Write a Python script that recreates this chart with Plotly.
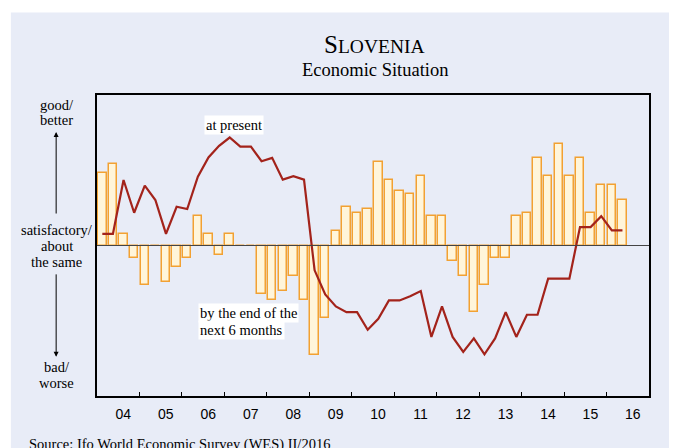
import plotly.graph_objects as go

# quarterly survey results, 2004Q1 .. 2016Q2 (scale 1 = bad, 5 = satisfactory, 9 = good)
start_year = 2004
present = [5.31, 5.31, 6.74, 5.87, 6.59, 6.21, 5.31, 6.03, 5.97, 6.83,
           7.34, 7.65, 7.87, 7.63, 7.63, 7.24, 7.33, 6.75, 6.84, 6.75,
           4.34, 3.70, 3.38, 3.23, 3.23, 2.76, 3.05, 3.54, 3.54, 3.65,
           3.79, 2.57, 3.38, 2.57, 2.17, 2.53, 2.11, 2.53, 3.23, 2.57,
           3.16, 3.16, 4.12, 4.12, 4.12, 5.49, 5.49, 5.78, 5.40, 5.40]
expected = [6.92, 7.16, 5.31, 4.67, 3.95, 5.00, 4.02, 4.42, 4.67, 5.79,
            5.31, 4.75, 5.31, 5.00, 5.00, 3.72, 3.56, 3.78, 4.19, 3.54,
            2.10, 3.06, 5.38, 6.03, 5.87, 5.96, 7.23, 6.74, 6.44, 6.36,
            6.84, 5.79, 5.79, 4.60, 4.19, 3.23, 3.96, 4.67, 4.67, 5.79,
            5.87, 7.33, 6.84, 7.71, 6.84, 7.33, 5.87, 6.60, 6.60, 6.20]
year_labels = ["04", "05", "06", "07", "08", "09", "10", "11", "12", "13", "14", "15", "16"]
grid_years = [2006, 2008, 2010, 2012, 2014, 2016]
neutral = 5

x = [start_year + (i + 0.5) / 4 for i in range(len(present))]

fig = go.Figure()
fig.add_trace(go.Bar(x=x, y=[v - neutral for v in expected], base=neutral, width=0.2,
                     marker=dict(color="#FFF5DA",
                                 line=dict(color="rgba(242,152,30,0.9)", width=1.5)),
                     name="by the end of the next 6 months"))
fig.add_trace(go.Scatter(x=x, y=present, mode="lines",
                         line=dict(color="#A3231B", width=2.2),
                         name="at present"))

for yr in grid_years:
    fig.add_vline(x=yr, line=dict(color="#A8A8A8", width=1.5), layer="below")
fig.add_hline(y=neutral, line=dict(color="#444444", width=1.2))

# lavender panel with thin white margin at top / left
fig.add_shape(type="rect", xref="paper", yref="paper", layer="below",
              x0=-0.156, x1=1.08, y0=-0.25, y1=1.274,
              fillcolor="#E8ECF7", line=dict(width=0))

serif = "Liberation Serif, Times New Roman, serif"
txt = dict(family=serif, size=14.5, color="black")

fig.add_annotation(xref="paper", yref="paper", x=0.503, y=1.1675, xanchor="center",
                   yanchor="middle", showarrow=False,
                   text="<span style='font-size:25px'>S</span>LOVENIA",
                   font=dict(family=serif, size=19.5, color="black"))
fig.add_annotation(xref="paper", yref="paper", x=0.503, y=1.0846, xanchor="center",
                   yanchor="middle", showarrow=False, text="Economic Situation",
                   font=dict(family=serif, size=18.5, color="black"))

fig.add_annotation(x=2007.22, y=8.21, text="at present", showarrow=False,
                   font=txt, bgcolor="white")
fig.add_annotation(x=2006.38, y=3.204, xanchor="left", showarrow=False,
                   text="by the end of the", bgcolor="white", font=txt)
fig.add_annotation(x=2006.38, y=2.764, xanchor="left", showarrow=False,
                   text="next 6 months", bgcolor="white", font=txt)

# left hand scale description, one line each
side_lines = [("good/", 0.9652), ("better", 0.9154),
              ("satisfactory/", 0.5506), ("about", 0.4975), ("the same", 0.4454),
              ("bad/", 0.0972), ("worse", 0.0441)]
for label, ypos in side_lines:
    fig.add_annotation(xref="paper", yref="paper", x=-0.073, y=ypos, xanchor="center",
                       yanchor="middle", showarrow=False, text=label, font=txt)
fig.add_annotation(xref="paper", yref="paper", x=-0.074, y=0.877, ax=0, ay=83,
                   text="", showarrow=True, arrowhead=2, arrowsize=1, arrowwidth=1,
                   arrowcolor="black")
fig.add_annotation(xref="paper", yref="paper", x=-0.074, y=0.130, ax=0, ay=-84,
                   text="", showarrow=True, arrowhead=2, arrowsize=1, arrowwidth=1,
                   arrowcolor="black")

fig.add_annotation(xref="paper", yref="paper", x=-0.127, y=-0.127, xanchor="left",
                   yanchor="top", showarrow=False,
                   text="Source: Ifo World Economic Survey (WES) II/2016", font=txt)

fig.update_xaxes(range=[2004, 2017],
                 tickvals=[start_year + i + 0.62 for i in range(len(year_labels))],
                 ticktext=year_labels, ticks="", ticklabelstandoff=4,
                 tickfont=dict(family="Liberation Sans, Arial, sans-serif", size=14, color="black"),
                 minor=dict(tickvals=list(range(2005, 2017)), ticks="inside", ticklen=4,
                            tickcolor="black", tickwidth=1, showgrid=False),
                 showgrid=False, zeroline=False,
                 showline=True, mirror=True, linecolor="black", linewidth=1.5)
fig.update_yaxes(range=[1, 9], showticklabels=False, ticks="", showgrid=False,
                 zeroline=False, showline=True, mirror=True, linecolor="black", linewidth=1.5)

# the page puts the figure 8px in from the top-left corner, so size it 8px smaller
fig.update_layout(width=669, height=440,
                  margin=dict(l=89, r=27.5, t=86.5, b=52),
                  paper_bgcolor="white", plot_bgcolor="white",
                  showlegend=False, bargap=0)

fig.write_html("out.html")
